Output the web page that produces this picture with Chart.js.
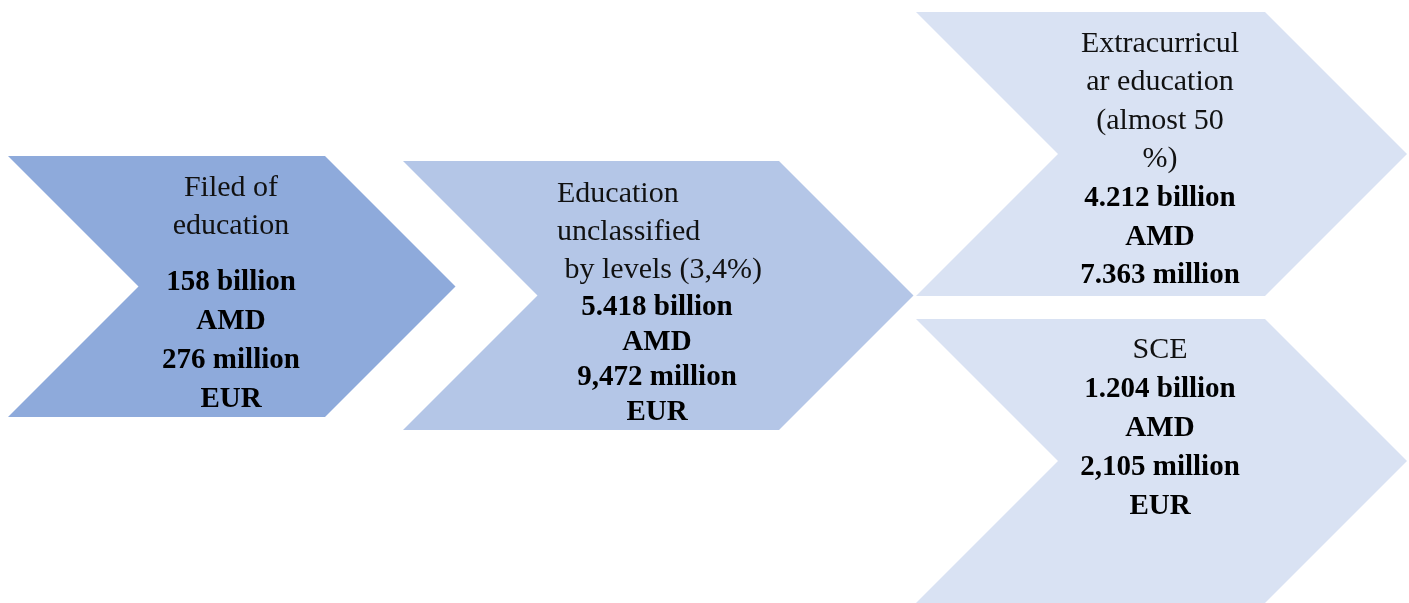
<!DOCTYPE html>
<html>
<head>
<meta charset="utf-8">
<title>Education funding chevrons</title>
<script src="https://cdn.jsdelivr.net/npm/chart.js@4/dist/chart.umd.min.js"></script>
<style>
    html,body{margin:0;padding:0;background:#ffffff;}
    #wrap{width:1409px;height:603px;position:relative;}
</style>
</head>
<body>
<div id="wrap"><canvas id="flowChart"></canvas></div>
<script>
/* ==========================================
   DATA
========================================== */

const stageTitles = [
    ["Filed of", "education"],
    ["Education", "unclassified", " by levels (3,4%)"],
    ["Extracurricul", "ar education", "(almost 50", "%)"],
    ["SCE"]
];

const amdValues = ["158 billion", "5.418 billion", "4.212 billion", "1.204 billion"];

const amdUnits = ["AMD", "AMD", "AMD", "AMD"];

const eurValues = ["276 million", "9,472 million", "7.363 million", "2,105 million"];

const eurUnits = ["EUR", "EUR", "", "EUR"];

const stageColors = ["#8eaadb", "#b4c6e7", "#d9e2f3", "#d9e2f3"];


/* ==========================================
   LAYOUT (axis units = page pixels)
========================================== */

const boxLeft   = [8, 403, 916, 916];
const boxRight  = [325, 779, 1265, 1265];
const boxTop    = [156, 161, 12, 319];
const boxBottom = [417, 430, 296, 603];

// text: first line y, line step, extra gap before values, x anchor, align
const textTop   = [188, 194, 44, 350];
const titleStep = [38, 38, 38.5, 39];
const valueStep = [38.7, 35, 38.5, 39];
const valueGap  = [19, 0, 1, 1];
const textX     = [231, 557, 1160, 1160];
const titleAlign = ["center", "left", "center", "center"];
const valueX    = [231, 657, 1160, 1160];


/* ==========================================
   CHEVRON POINTS
========================================== */

function chevronPoints(i){

    const depth = (boxBottom[i] - boxTop[i]) / 2;
    const mid = boxTop[i] + depth;

    return [
        {x: boxLeft[i], y: boxTop[i]},
        {x: boxRight[i], y: boxTop[i]},
        {x: boxRight[i] + depth, y: mid},
        {x: boxRight[i], y: boxBottom[i]},
        {x: boxLeft[i], y: boxBottom[i]},
        {x: boxLeft[i] + depth, y: mid},
        {x: boxLeft[i], y: boxTop[i]}
    ];

}


/* ==========================================
   TEXT PLUGIN
========================================== */

const stageText = {

    id: "stageText",

    afterDatasetsDraw(chart){

        const ctx = chart.ctx;
        const xs = chart.scales.x;
        const ys = chart.scales.y;

        ctx.save();
        ctx.textBaseline = "middle";

        stageTitles.forEach((lines, i)=>{

            let y = textTop[i];

            ctx.font = "30px 'Liberation Serif', serif";
            ctx.fillStyle = "#111111";
            ctx.textAlign = titleAlign[i];

            lines.forEach(line=>{
                ctx.fillText(line, xs.getPixelForValue(textX[i]), ys.getPixelForValue(y));
                y += titleStep[i];
            });

            y += valueGap[i];

            ctx.font = "bold 29px 'Liberation Serif', serif";
            ctx.fillStyle = "#000000";
            ctx.textAlign = "center";

            [amdValues[i], amdUnits[i], eurValues[i], eurUnits[i]].forEach(line=>{
                if(!line) return;
                ctx.fillText(line, xs.getPixelForValue(valueX[i]), ys.getPixelForValue(y));
                y += valueStep[i];
            });

        });

        ctx.restore();

    }

};


/* ==========================================
   CHART
========================================== */

const ctx = document.getElementById("flowChart").getContext("2d");

new Chart(ctx, {

    type: "line",

    data: {
        datasets: stageColors.map((color, i)=>({
            data: chevronPoints(i),
            backgroundColor: color,
            borderColor: "transparent",
            borderWidth: 0,
            pointRadius: 0,
            tension: 0,
            fill: "shape"
        }))
    },

    options: {
        responsive: true,
        maintainAspectRatio: false,
        animation: false,
        events: [],
        layout: {padding: 0},
        plugins: {
            legend: {display: false},
            tooltip: {enabled: false}
        },
        scales: {
            x: {type: "linear", min: 0, max: 1409, display: false},
            y: {type: "linear", min: 0, max: 603, reverse: true, display: false}
        }
    },

    plugins: [stageText]

});
</script>
</body>
</html>
